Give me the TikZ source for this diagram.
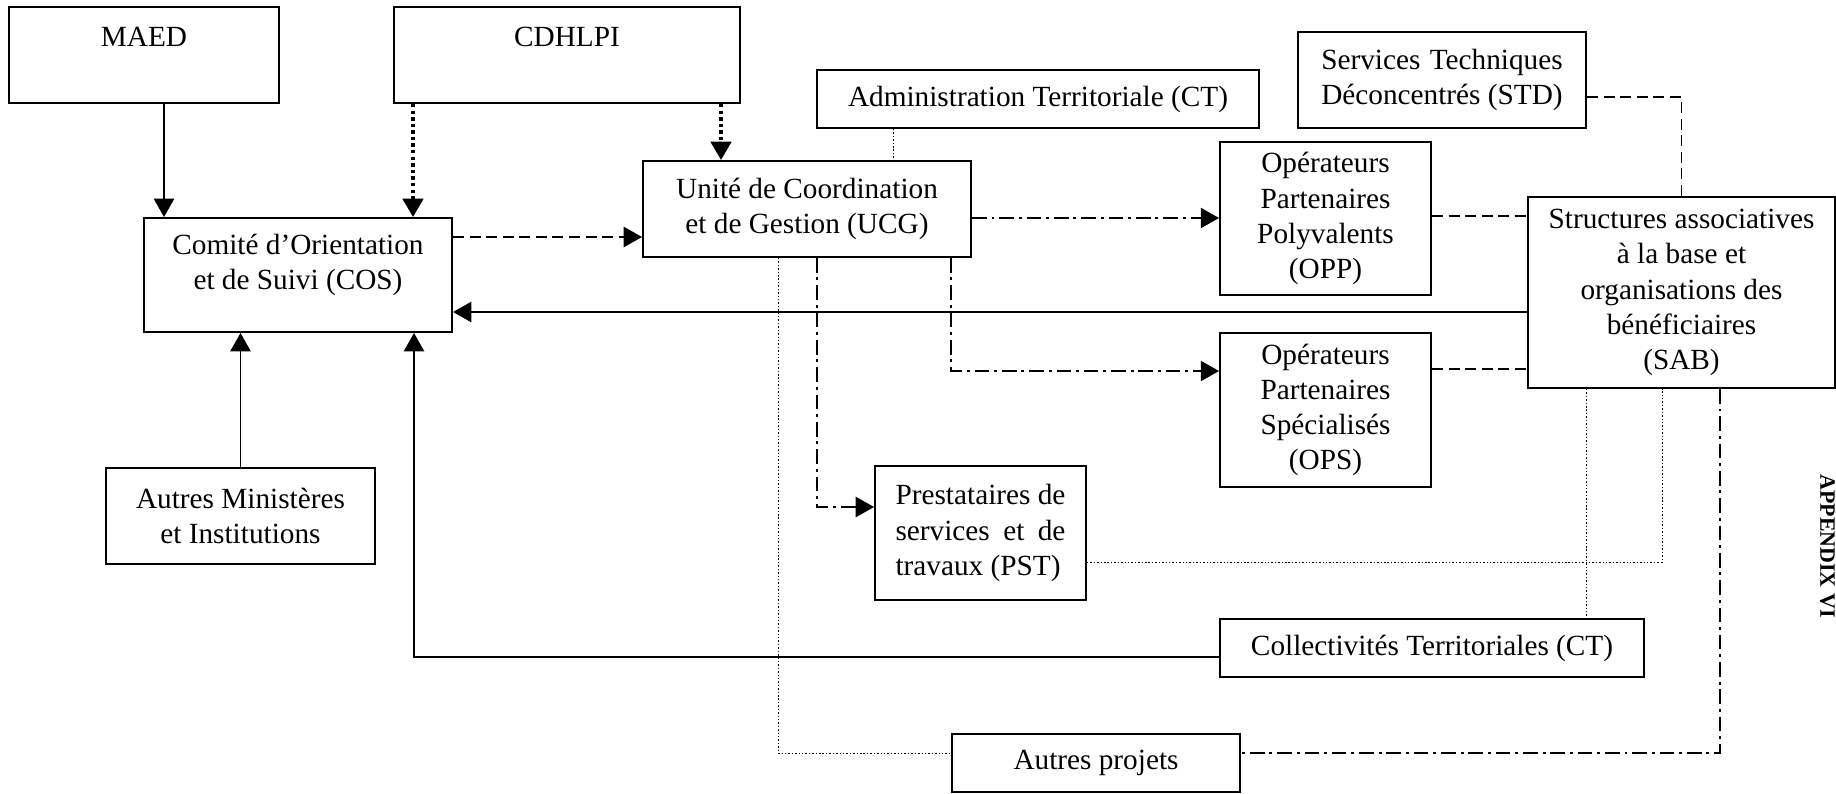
\documentclass[tikz,border=0pt]{standalone}
\usepackage{fontspec}
\setmainfont{Liberation Serif}
\usepackage{calc}
\usetikzlibrary{arrows.meta}
\newlength\pxl
\setlength\pxl{0.41pt}
\begin{document}
\begin{tikzpicture}[x=0.41pt, y=-0.41pt, line width=0.65pt,
  font=\fontsize{12}{14.4}\selectfont,
  box/.style={draw, line width=0.8pt, rectangle, align=center, inner sep=2pt},
  toptxt/.style={text depth=14.8pt},
  arr/.style={-{Triangle[length=7.5pt,width=8.3pt]}},
  dsh/.style={dash pattern=on 4.5pt off 2.3pt},
  dshdot/.style={dash pattern=on 6pt off 2pt on 1.2pt off 2pt},
  fdot/.style={line width=0.4pt, dash pattern=on 0.6pt off 0.8pt},
  hdot/.style={line width=1.5pt, dash pattern=on 1.4pt off 1.3pt}]
  \useasboundingbox (0,0) rectangle (1836,793);
  % top row
  \node at (144,55) [box, toptxt, minimum width=270\pxl, minimum height=96\pxl] (maed) {MAED};
  \node at (567,55) [box, toptxt, minimum width=346\pxl, minimum height=96\pxl] (cdhlpi) {CDHLPI};
  \node at (1038,99) [box, minimum width=442\pxl, minimum height=58\pxl] (admin) {Administration Territoriale (CT)};
  \node at (1442,80) [box, align=left, minimum width=288\pxl, minimum height=96\pxl] (std)
  {\makebox[\widthof{Déconcentrés (STD)}][s]{Services Techniques}\\Déconcentrés (STD)};
  % middle
  \node at (298,275) [box, text depth=10.8pt, minimum width=308\pxl, minimum height=114\pxl] (cos) {Comité d’Orientation\\et de Suivi (COS)};
  \node at (807,209) [box, minimum width=328\pxl, minimum height=96\pxl] (ucg) {Unité de Coordination\\et de Gestion (UCG)};
  \node at (1325.5,218.5) [box, minimum width=211\pxl, minimum height=153\pxl] (opp) {Opérateurs\\Partenaires\\Polyvalents\\(OPP)};
  \node at (1681.5,292.5) [box, minimum width=307\pxl, minimum height=191\pxl] (sab) {Structures associatives\\à la base et\\organisations des\\bénéficiaires\\(SAB)};
  \node at (1325.5,410) [box, minimum width=211\pxl, minimum height=154\pxl] (ops) {Opérateurs\\Partenaires\\Spécialisés\\(OPS)};
  % bottom
  \node at (980.5,533) [box, align=left, minimum width=211\pxl, minimum height=134\pxl] (pst)
  {Prestataires de\\\makebox[\widthof{Prestataires de}][s]{services et de}\\travaux (PST)};
  \node at (240.5,516) [box, minimum width=269\pxl, minimum height=96\pxl] (ami) {Autres Ministères\\et Institutions};
  \node at (1432,648) [box, minimum width=424\pxl, minimum height=58\pxl] (ct) {Collectivités Territoriales (CT)};
  \node at (1096,763) [box, minimum width=288\pxl, minimum height=58\pxl] (ap) {Autres projets};
  \node at (1827.5,546) [rotate=-90, inner sep=0pt, font=\fontsize{9}{10.8}\selectfont\bfseries] (appx) {APPENDIX VI};

  \draw[arr] (maed.south -| 164,0) -- (cos.north -| 164,0);
  \draw[arr, hdot] (cdhlpi.south -| 413,0) -- (cos.north -| 413,0);
  \draw[arr, hdot] (cdhlpi.south -| 721,0) -- (ucg.north -| 721,0);
  \draw[fdot] (admin.south -| 893,0) -- (ucg.north -| 893,0);
  \draw[arr, dsh] (cos.east |- 0,237) -- (ucg.west |- 0,237);
  \draw[arr, dshdot] (ucg.east |- 0,218) -- (opp.west |- 0,218);
  \draw[arr, dshdot] (ucg.south -| 951,0) |- (ops.west |- 0,371);
  \draw[arr, dshdot] (ucg.south -| 817,0) |- (pst.west |- 0,507);
  \draw[fdot] (ucg.south -| 778,0) |- (ap.west |- 0,753);
  \draw[arr] (sab.west |- 0,312) -- (cos.east |- 0,312);
  \draw[arr] (ami.north) -- (cos.south -| ami.north);
  \draw[arr] (ct.west |- 0,657) -| (cos.south -| 414,0);
  \draw[dsh] (std.east |- 0,97) -| (sab.north);
  \draw[dsh] (opp.east |- 0,216) -- (sab.west |- 0,216);
  \draw[dsh] (ops.east |- 0,369) -- (sab.west |- 0,369);
  \draw[fdot] (sab.south -| 1586,0) -- (ct.north -| 1586,0);
  \draw[fdot] (pst.east |- 0,562) -| (sab.south -| 1662,0);
  \draw[dshdot] (sab.south -| 1720,0) |- (ap.east |- 0,753);
\end{tikzpicture}
\end{document}
